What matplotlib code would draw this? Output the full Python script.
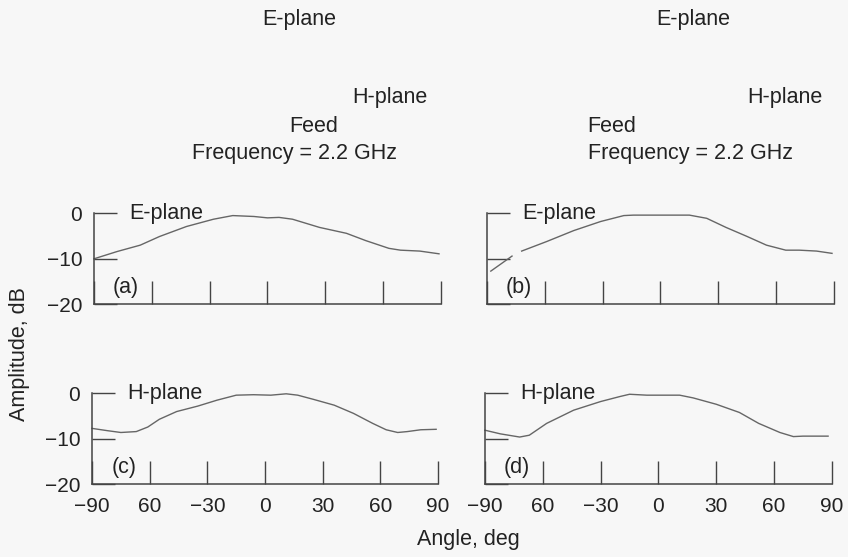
import matplotlib
matplotlib.use("Agg")
import matplotlib.pyplot as plt

# ---- data ----
angle_ticks = [-90, -60, -30, 0, 30, 60, 90]
angle_tick_labels = ["\u221290", "60", "\u221230", "0", "30", "60", "90"]
db_ticks = [0, -10, -20]
db_tick_labels = ["0", "\u221210", "\u221220"]

a_ang = [-90, -78, -66, -56, -42, -28, -18, -7, 0, 6, 13, 20, 27, 41, 51, 63, 69, 79, 89]
a_db = [-10.0, -8.4, -7.0, -5.1, -2.9, -1.3, -0.5, -0.7, -1.0, -0.9, -1.3, -2.2, -3.1,
        -4.4, -6.0, -7.7, -8.1, -8.3, -8.9]

b1_ang = [-88, -77]
b1_db = [-12.7, -9.4]
b_ang = [-72, -59, -45, -31, -19, -14, 0, 15, 24, 34, 45, 55, 65, 72, 81, 89]
b_db = [-8.3, -6.2, -3.8, -1.8, -0.5, -0.4, -0.4, -0.4, -1.1, -3.1, -5.1, -7.0, -8.1,
        -8.1, -8.3, -8.8]

c_ang = [-90, -82, -75, -67, -61, -55, -46, -35, -25, -15, -6, 3, 11, 17, 25, 36, 46,
         56, 63, 69, 74, 81, 89]
c_db = [-7.7, -8.2, -8.6, -8.4, -7.4, -5.7, -4.0, -2.8, -1.5, -0.4, -0.3, -0.4, -0.1,
        -0.4, -1.3, -2.6, -4.4, -6.6, -8.0, -8.6, -8.4, -8.0, -7.9]

d_ang = [-90, -82, -72, -67, -58, -44, -30, -20, -15, -6, 11, 18, 30, 42, 52, 63, 70, 75, 88]
d_db = [-8.1, -8.9, -9.6, -9.2, -6.6, -3.7, -1.8, -0.7, -0.2, -0.4, -0.4, -1.0, -2.4,
        -4.2, -6.6, -8.6, -9.5, -9.4, -9.4]

panel_letters = ["(a)", "(b)", "(c)", "(d)"]
plane_names = ["E-plane", "E-plane", "H-plane", "H-plane"]

# ---- style ----
plt.rcParams["font.family"] = ["Liberation Sans", "DejaVu Sans"]
TXT = "#222222"
AXC = "#444444"
LNC = "#666666"
BG = "#f7f7f7"
FS = 15.5
TFS = 15

W, H = 848, 557
fig = plt.figure(figsize=(W / 100, H / 100), dpi=100, facecolor=BG)


def pos(left_px, top_px, width_px, height_px):
    return [left_px / W, 1 - (top_px + height_px) / H, width_px / W, height_px / H]


ax_a = fig.add_axes(pos(90.1, 208.75, 354.7, 97.85))
ax_b = fig.add_axes(pos(483.1, 208.75, 354.7, 97.85))
ax_c = fig.add_axes(pos(88.2, 388.8, 353.7, 97.85))
ax_d = fig.add_axes(pos(481.1, 388.8, 354.7, 97.85))
axes = [ax_a, ax_b, ax_c, ax_d]

for i, ax in enumerate(axes):
    ax.set_facecolor("none")
    ax.set_xlim(-92, 92)
    ax.set_ylim(-20.5, 1)
    for s in ("top", "right"):
        ax.spines[s].set_visible(False)
    ax.spines["left"].set_position(("data", -90))
    ax.spines["bottom"].set_position(("data", -20))
    ax.spines["left"].set_bounds(-20, 0)
    ax.spines["bottom"].set_bounds(-90, 90)
    for s in ("left", "bottom"):
        ax.spines[s].set_color(AXC)
        ax.spines[s].set_linewidth(1.1)
    ax.set_xticks(angle_ticks)
    ax.set_yticks(db_ticks)
    ax.tick_params(axis="both", direction="in", length=16.5, width=1.0, color=AXC,
                   labelcolor=TXT, labelsize=TFS)
    ax.tick_params(axis="x", pad=9)
    ax.tick_params(axis="y", pad=8.5)
    if i >= 2:
        ax.set_xticklabels(angle_tick_labels)
    else:
        ax.set_xticklabels([])
    if i % 2 == 0:
        ax.set_yticklabels(db_tick_labels)
    else:
        ax.set_yticklabels([])
    ax.text(-71.5, 0, plane_names[i], ha="left", va="center", fontsize=FS, color=TXT)
    ax.text(-73.5, -16.2, panel_letters[i], ha="center", va="center", fontsize=FS, color=TXT)

lw = 1.0
ax_a.plot(a_ang, a_db, color=LNC, lw=lw, clip_on=False)
ax_b.plot(b1_ang, b1_db, color=LNC, lw=lw, clip_on=False)
ax_b.plot(b_ang, b_db, color=LNC, lw=lw, clip_on=False)
ax_c.plot(c_ang, c_db, color=LNC, lw=lw, clip_on=False)
ax_d.plot(d_ang, d_db, color=LNC, lw=lw, clip_on=False)


def ftext(x, y, s, **kw):
    fig.text(x / W, 1 - y / H, s, ha="center", va="center", fontsize=FS, color=TXT, **kw)


ftext(299, 20, "E-plane")
ftext(693, 20, "E-plane")
ftext(390, 97, "H-plane")
ftext(785, 97, "H-plane")
ftext(314, 126, "Feed")
ftext(612, 126, "Feed")
ftext(294, 153, "Frequency = 2.2 GHz")
ftext(690, 153, "Frequency = 2.2 GHz")
ftext(468, 539, "Angle, deg")
ftext(20, 354, "Amplitude, dB", rotation=90)

fig.savefig("out.png", dpi=100, facecolor=BG)
